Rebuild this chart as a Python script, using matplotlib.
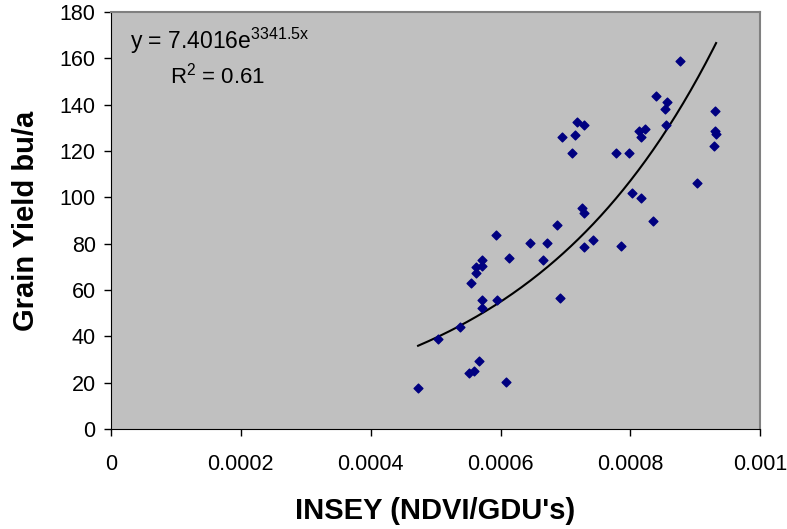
import matplotlib.pyplot as plt
import numpy as np

plt.rcParams['font.family'] = ['Liberation Sans', 'DejaVu Sans']
plt.rcParams['mathtext.default'] = 'regular'

# INSEY (NDVI/GDU's) and grain yield
insey = [0.000473, 0.000504, 0.000537, 0.000567, 0.000552, 0.000559, 0.000608,
         0.000554, 0.000571, 0.000571, 0.000595, 0.000562, 0.000562, 0.000571,
         0.000571, 0.000593, 0.000613, 0.000645, 0.000672, 0.000665, 0.000687,
         0.000692, 0.000729, 0.000743, 0.000876, 0.000839, 0.000857, 0.000854,
         0.000855, 0.000718, 0.000729, 0.000695, 0.000714, 0.000710, 0.000813,
         0.000822, 0.000817, 0.000778, 0.000798, 0.000931, 0.000931, 0.000932,
         0.000929, 0.000902, 0.000803, 0.000817, 0.000725, 0.000728, 0.000835,
         0.000786]
yld = [17.5, 38.8, 44.0, 29.3, 24.0, 25.2, 20.3,
       62.9, 55.8, 52.1, 55.8, 67.5, 70.0, 70.6,
       72.8, 83.6, 73.7, 80.3, 80.3, 72.8, 88.3,
       56.7, 78.8, 81.6, 159.0, 143.6, 141.1, 138.2,
       131.3, 132.4, 131.2, 126.0, 126.9, 119.4, 128.9,
       129.5, 126.0, 119.0, 119.0, 137.4, 128.6, 127.6,
       122.1, 106.2, 102.0, 99.7, 95.5, 93.4, 89.8,
       79.0]

# exponential trendline y = a*exp(b*x)
coef_a = 7.4016
coef_b = 3341.5
r2 = 0.61

fig = plt.figure(figsize=(7.87, 5.29), dpi=100)
ax = fig.add_axes([0.141, 0.189, 0.825, 0.788])
ax.set_facecolor('#C0C0C0')

ax.scatter(insey, yld, marker='D', s=20, color='#000080', zorder=3)

xs = np.linspace(min(insey), max(insey), 200)
ax.plot(xs, coef_a * np.exp(coef_b * xs), color='black', lw=1.5, zorder=2)

ax.set_xlim(0, 0.001)
ax.set_ylim(0, 180)
ax.set_xticks([0, 0.0002, 0.0004, 0.0006, 0.0008, 0.001])
ax.set_xticklabels(['0', '0.0002', '0.0004', '0.0006', '0.0008', '0.001'])
ax.set_yticks(range(0, 181, 20))
ax.tick_params(labelsize=15.5, direction='out', length=5, width=1)
ax.tick_params(axis='x', pad=13)
ax.tick_params(axis='y', pad=6)

for s in ['top', 'right']:
    ax.spines[s].set_color('#808080')
    ax.spines[s].set_linewidth(1.5)
for s in ['left', 'bottom']:
    ax.spines[s].set_color('black')

ax.set_xlabel("INSEY (NDVI/GDU's)", fontsize=21, fontweight='bold', labelpad=16)
ax.set_ylabel('Grain Yield bu/a', fontsize=21, fontweight='bold', labelpad=14)

ax.text(0.000029, 167.5, 'y = %.4fe$^{%.1fx}$' % (coef_a, coef_b), fontsize=16.5, va='center')
ax.text(0.000091, 152.8, 'R$^{2}$ = %.2f' % r2, fontsize=16, va='center')

fig.savefig('out.png', dpi=100)
